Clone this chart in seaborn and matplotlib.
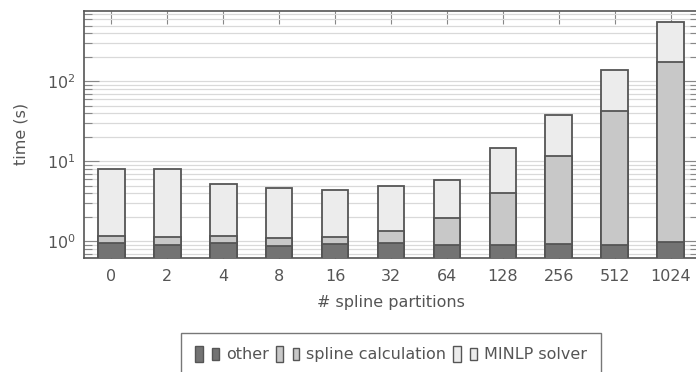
import numpy as np
import pandas as pd
import seaborn as sns
import matplotlib.pyplot as plt
from matplotlib.patches import Rectangle
from matplotlib.legend_handler import HandlerBase
from matplotlib.ticker import LogLocator, NullFormatter

# data (seconds)
partitions = ["0", "2", "4", "8", "16", "32", "64", "128", "256", "512", "1024"]
other = [0.95, 0.90, 0.95, 0.88, 0.93, 0.95, 0.90, 0.90, 0.93, 0.90, 0.98]
spline = [0.22, 0.23, 0.22, 0.22, 0.22, 0.41, 1.05, 3.17, 10.9, 42.0, 175.0]
minlp = [7.0, 6.9, 4.1, 3.5, 3.25, 3.6, 3.95, 10.5, 26.2, 95.0, 381.0]

df = pd.DataFrame({"partitions": partitions, "other": other,
                   "spline": spline, "minlp": minlp})
df["spline_top"] = df["other"] + df["spline"]
df["total"] = df["spline_top"] + df["minlp"]

sns.set_theme(style="white")
plt.rcParams["font.family"] = ["DejaVu Sans"]
txt = "#555555"
edge = "#555555"
c_other, c_spline, c_minlp = "#737373", "#c8c8c8", "#ececec"

fig = plt.figure(figsize=(6.96, 3.72), dpi=100)
ax = fig.add_axes([84 / 696, 1 - 257.7 / 372, (698 - 84) / 696, (257.7 - 10.7) / 372])
ax.set_yscale("log")

# stacked bars drawn as overlapping cumulative bars
for col, c in [("total", c_minlp), ("spline_top", c_spline), ("other", c_other)]:
    sns.barplot(data=df, x="partitions", y=col, order=partitions, color=c,
                width=0.475, edgecolor=edge, linewidth=1.3, saturation=1,
                errorbar=None, ax=ax, zorder=3)

ax.set_yscale("log")
ax.set_ylim(0.627, 767)
ax.set_xlim(-0.49, 10.49)
ax.yaxis.set_major_locator(LogLocator(base=10))
ax.yaxis.set_minor_locator(LogLocator(base=10, subs=np.arange(2, 10)))
ax.yaxis.set_minor_formatter(NullFormatter())

ax.grid(True, axis="y", which="both", color="#d9d9d9", lw=0.9, zorder=0)
ax.grid(False, axis="x")
ax.set_axisbelow(True)

for s in ax.spines.values():
    s.set_color(edge)
    s.set_linewidth(1.2)

ax.tick_params(axis="x", which="major", direction="in", length=9, width=0.8,
               color="#888888", top=True, bottom=True, labelsize=11.5,
               labelcolor=txt, pad=8)
ax.tick_params(axis="y", which="major", direction="in", length=11, width=0.8,
               color="#888888", left=True, right=True, labelsize=11.5,
               labelcolor=txt, pad=6)
ax.tick_params(axis="y", which="minor", direction="in", length=6, width=0.8,
               color="#888888", left=True, right=True)

ax.set_xlabel("# spline partitions", fontsize=11.5, color=txt, labelpad=8)
ax.set_ylabel("time (s)", fontsize=11.5, color=txt, labelpad=13)


class TwoBars(HandlerBase):
    def create_artists(self, legend, orig_handle, xd, yd, w, h, fontsize, trans):
        fc = orig_handle.get_facecolor()
        a = Rectangle((xd, yd - 0.25 * h), 0.3 * w, 1.45 * h, facecolor=fc,
                      edgecolor=edge, lw=1, transform=trans)
        b = Rectangle((xd + 0.7 * w, yd - 0.05 * h), 0.28 * w, 1.05 * h,
                      facecolor=fc, edgecolor=edge, lw=1, transform=trans)
        return [a, b]


handles = [Rectangle((0, 0), 1, 1, facecolor=c) for c in (c_other, c_spline, c_minlp)]
leg = fig.legend(handles, ["other", "spline calculation", "MINLP solver"],
                 handler_map={Rectangle: TwoBars()}, ncol=3,
                 loc="upper left", bbox_to_anchor=(181 / 696, 1 - 333 / 372),
                 frameon=True, fancybox=False, fontsize=11.5,
                 handlelength=1.5, handletextpad=0.4, columnspacing=0.45,
                 borderpad=0.9, borderaxespad=0, labelcolor=txt)
leg.get_frame().set_edgecolor(edge)
leg.get_frame().set_linewidth(1.0)

fig.savefig("out.png", dpi=100)
